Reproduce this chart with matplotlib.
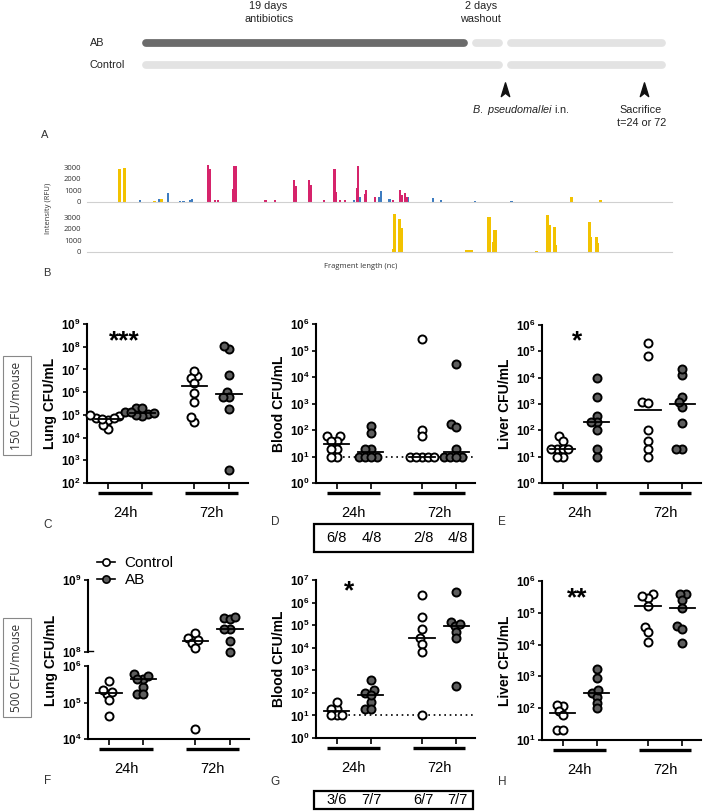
import numpy as np
import matplotlib.pyplot as plt
import matplotlib.transforms as mtrans
from matplotlib.path import Path
from matplotlib.lines import Line2D
from matplotlib.patches import Rectangle
from matplotlib.ticker import NullLocator

plt.rcParams['font.family'] = ['Liberation Sans', 'DejaVu Sans']
plt.rcParams['mathtext.fontset'] = 'custom'
plt.rcParams['mathtext.rm'] = 'Liberation Sans'
plt.rcParams['mathtext.it'] = 'Liberation Sans:italic'
plt.rcParams['mathtext.bf'] = 'Liberation Sans:bold'

# ---- A: timeline (days) ----
ab_days = 19
washout_days = 2
end_day = 30.4        # drawn length of the infection period (not to scale)
sacrifice_day = 29.0

# ---- B: fragment analysis peaks (position along axis, height in RFU) ----
top_yellow_pos = [73, 83, 150, 167, 1080, 1145]
top_yellow_h = [2850, 2900, 100, 250, 450, 150]
top_blue_pos = [118, 160, 181, 207, 215, 230, 235, 595, 608, 651, 655, 675, 715, 772, 790, 865, 947]
top_blue_h = [150, 250, 750, 100, 100, 200, 300, 150, 450, 400, 950, 250, 400, 350, 150, 100, 100]
top_red_pos = [270, 273, 285, 293, 326, 328, 332, 398, 420, 462, 465, 496, 499, 528, 552, 555,
               565, 575, 603, 605, 620, 623, 643, 683, 698, 702, 710, 713]
top_red_h = [3200, 2850, 200, 200, 1100, 3050, 3050, 200, 200, 1900, 1350, 1850, 1450, 200, 2850, 900,
             150, 150, 1200, 3100, 700, 1050, 450, 150, 1000, 600, 800, 400]
bot_yellow_pos = [683, 685, 698, 701, 847, 852, 857, 895, 898, 908, 910, 1003, 1028, 1031, 1043, 1045,
                  1121, 1124, 1136, 1138]
bot_yellow_h = [300, 3250, 2800, 2100, 200, 200, 150, 3000, 3000, 900, 1850, 100, 3200, 2300, 2150, 600,
                2550, 1250, 1250, 800]

# ---- C-H: CFU/mL, groups = Control 24h, AB 24h, Control 72h, AB 72h ----
lung150 = [[9.1e4, 5.9e4, 7e4, 7.4e4, 9.8e4, 2.4e4, 3.6e4, 6.5e4],
           [1.1e5, 2e5, 9e4, 2e5, 1.4e5, 1e5, 1.2e5, 1.3e5],
           [5.2e6, 8.7e6, 4.4e6, 2.6e6, 9.5e5, 3.8e5, 5e4, 8.3e4],
           [7.8e7, 1.1e8, 5.6e6, 1.05e6, 5.9e5, 6.3e5, 1.8e5, 3.7e2]]
blood150 = [[60, 60, 40, 40, 20, 20, 10, 10],
            [140, 80, 20, 20, 10, 10, 10, 10],
            [2.8e5, 100, 60, 10, 10, 10, 10, 10],
            [3.1e4, 170, 125, 20, 10, 10, 10, 10]]
liver150 = [[60, 39, 20, 20, 20, 20, 10, 10],
            [9.3e3, 1.9e3, 360, 200, 210, 100, 20, 10],
            [2e5, 6.6e4, 1.2e3, 1.07e3, 100, 40, 20, 10],
            [1.26e4, 2.1e4, 1.9e3, 800, 1.2e3, 190, 20, 20]]
lung500 = [[1.66e5, 2.2e5, 4e5, 1.9e5, 1.17e5, 4.3e4],
           [6e5, 2.6e5, 4.4e5, 4.4e5, 5.4e5, 1.66e5, 1.66e5],
           [1.55e8, 1.86e8, 1.35e8, 1.15e8, 1.48e8, 1.9e4],
           [2.95e8, 2.9e8, 3.1e8, 2.1e8, 2.1e8, 1.4e8, 1.0e8]]
blood500 = [[20, 40, 20, 10, 10, 10],
            [380, 98, 130, 38, 80, 20, 20],
            [2.2e6, 2.4e5, 6.6e4, 2.6e4, 1.5e4, 6.3e3, 10],
            [3e6, 1.45e5, 9.3e4, 1.15e5, 5.2e4, 2.6e4, 210]]
liver500 = [[120, 125, 83, 60, 20, 20],
            [870, 1.7e3, 310, 230, 370, 150, 98],
            [3.8e5, 3e5, 3.3e5, 1.6e5, 3.6e4, 2.5e4, 1.2e4],
            [3.8e5, 3.8e5, 2.6e5, 1.45e5, 3.8e4, 3e4, 1.1e4]]
blood150_pos = ['6/8', '4/8', '2/8', '4/8']
blood500_pos = ['3/6', '7/7', '6/7', '7/7']
times = ['24h', '72h']

W, H = 704, 811
fig = plt.figure(figsize=(W / 100, H / 100), dpi=100)


def add_ax(l, t, r, b):
    return fig.add_axes([l / W, 1 - b / H, (r - l) / W, (b - t) / H])


def ftext(x, y, s, **kw):
    kw.setdefault('ha', 'center')
    kw.setdefault('va', 'center')
    fig.text(x / W, 1 - y / H, s, **kw)


def fbox(l, t, r, b, **kw):
    fig.add_artist(Rectangle((l / W, 1 - b / H), (r - l) / W, (b - t) / H,
                             transform=fig.transFigure, fill=False, **kw))


# ---------- A ----------
axA = add_ax(0, 0, W, 140)
pxday = 17.38
axA.set_xlim(-140 / pxday, (W - 140) / pxday)
axA.set_ylim(140, 0)
axA.axis('off')
dark, light = '#6b6b6b', '#e3e3e3'
rows = {'AB': (43, [(0, ab_days, dark), (ab_days, ab_days + washout_days, light),
                    (ab_days + washout_days, end_day, light)]),
        'Control': (65, [(0, ab_days + washout_days, light), (ab_days + washout_days, end_day, light)])}
for name, (yrow, segs) in rows.items():
    for s, e, c in segs:
        axA.plot([s + 0.35, e - 0.35], [yrow, yrow], color=c, lw=5.6, solid_capstyle='round')
    axA.text(-50 / pxday, yrow, name, ha='left', va='center', fontsize=7.8, color='#222')
axA.text(7.4, 6, '19 days', ha='center', va='center', fontsize=7.8, color='#222')
axA.text(7.4, 19, 'antibiotics', ha='center', va='center', fontsize=7.8, color='#222')
axA.text(ab_days + 0.6, 6, '2 days', ha='center', va='center', fontsize=7.8, color='#222')
axA.text(ab_days + 0.6, 19, 'washout', ha='center', va='center', fontsize=7.8, color='#222')
arrow = Path([(0, 1), (0.55, -0.8), (0, -0.35), (-0.55, -0.8), (0, 1)],
             [Path.MOVETO, Path.LINETO, Path.LINETO, Path.LINETO, Path.CLOSEPOLY])
axA.plot([ab_days + washout_days, sacrifice_day], [90, 90], ls='none', marker=arrow,
         ms=11, color='#111')
axA.text(ab_days + washout_days + 0.9, 110, r'$\it{B.\ pseudomallei}$ i.n.', ha='center',
         va='center', fontsize=7.8, color='#222')
axA.text(sacrifice_day - 0.2, 110, 'Sacrifice', ha='center', va='center', fontsize=7.8, color='#222')
axA.text(sacrifice_day - 0.15, 123, 't=24 or 72', ha='center', va='center', fontsize=7.8, color='#222')
ftext(45, 135, 'A', fontsize=8, color='#333')

# ---------- B ----------
yellow, blue, red = '#f2c200', '#3d7cc0', '#d6236b'
axB1 = add_ax(87, 163.5, 672, 202)
axB2 = add_ax(87, 213.5, 672, 252)
axB1.bar(top_yellow_pos, top_yellow_h, width=7, color=yellow, lw=0)
axB1.bar(top_blue_pos, top_blue_h, width=5, color=blue, lw=0)
axB1.bar(top_red_pos, top_red_h, width=5, color=red, lw=0)
axB2.bar(bot_yellow_pos, bot_yellow_h, width=7, color=yellow, lw=0)
for ax in (axB1, axB2):
    ax.set_xlim(0, 1305)
    ax.set_ylim(0, 3300)
    ax.set_yticks([0, 1000, 2000, 3000])
    ax.set_xticks([])
    ax.tick_params(axis='y', length=0, labelsize=5.5, pad=4, labelcolor='#333')
    for sp in ('top', 'right', 'left'):
        ax.spines[sp].set_visible(False)
    ax.spines['bottom'].set_color('#d0d0d0')
    ax.spines['bottom'].set_linewidth(0.8)
    ax.patch.set_alpha(0)
    for lab in ax.get_yticklabels():
        lab.set_family(['Open Sans', 'DejaVu Sans'])
ftext(49, 208, 'Intensity (RFU)', rotation=90, fontsize=5.5, color='#333', family=['Open Sans', 'DejaVu Sans'])
ftext(361, 266, 'Fragment length (nc)', fontsize=5.5, color='#333', family=['Open Sans', 'DejaVu Sans'])
ftext(47, 273, 'B', fontsize=8, color='#333')

# ---------- C-H ----------
xpos = [0, 1, 2.5, 3.5]
ppx = 34.6


def swarm(ypx, d=5.8):
    cand = np.arange(-25, 25.01, 0.5)
    cand = cand[np.argsort(np.abs(cand), kind='stable')]
    placed, out = [], np.zeros(len(ypx))
    for i in np.argsort(ypx):
        for c in cand:
            if all((c - a) ** 2 + (ypx[i] - b) ** 2 >= d * d for a, b in placed):
                out[i] = c
                placed.append((c, ypx[i]))
                break
    return out


def style_ax(ax, lo, hi, bottom=True):
    ax.set_yscale('log')
    ax.set_ylim(10.0 ** lo, 10.0 ** hi)
    ax.set_xlim(-0.6, 4.05)
    ax.set_yticks([10.0 ** k for k in range(lo, hi + 1)])
    ax.set_yticklabels([r'$\mathbf{10^{%d}}$' % k for k in range(lo, hi + 1)])
    ax.yaxis.set_minor_locator(NullLocator())
    for sp in ('top', 'right'):
        ax.spines[sp].set_visible(False)
    ax.spines['left'].set_linewidth(1.5)
    ax.spines['bottom'].set_linewidth(1.5)
    ax.tick_params(axis='y', length=3, width=1.2, labelsize=8.5, pad=1.5)
    if bottom:
        ax.set_xticks(xpos)
        ax.set_xticklabels([])
        ax.tick_params(axis='x', length=4, width=1.2)
    else:
        ax.spines['bottom'].set_visible(False)
        ax.set_xticks([])
    ax.patch.set_alpha(0)


def draw_points(ax, i, vals, off):
    x = xpos[i] + off / ppx
    face = 'white' if i % 2 == 0 else '#5e5e5e'
    ax.plot(x, vals, 'o', ms=5.8, mfc=face, mec='k', mew=1.4, ls='none', zorder=3, clip_on=False)


def median_line(ax, i, vals):
    m = np.median(vals)
    ax.plot([xpos[i] - 0.37, xpos[i] + 0.37], [m, m], color='k', lw=1.3, zorder=4)


def under_axis(ax):
    tr = ax.get_xaxis_transform() + mtrans.ScaledTranslation(0, -10 / 100, fig.dpi_scale_trans)
    for k, c in enumerate([0.5, 3.0]):
        ax.plot([c - 0.77, c + 0.77], [0, 0], color='k', lw=2.4, transform=tr, clip_on=False,
                solid_capstyle='butt')
        ax.annotate(times[k], xy=(c, 0), xycoords=('data', 'axes fraction'), xytext=(0, -30),
                    textcoords='offset pixels', ha='center', va='center', fontsize=10.5,
                    annotation_clip=False)


def cfu_panel(rect, data, lo, hi, ylabel, dotted=False):
    ax = add_ax(*rect)
    style_ax(ax, lo, hi)
    ppd = (rect[3] - rect[1]) / (hi - lo)
    for i, vals in enumerate(data):
        v = np.array(vals, float)
        off = swarm(np.log10(v) * ppd)
        draw_points(ax, i, v, off)
        median_line(ax, i, v)
    if dotted:
        ax.axhline(10, xmin=0.07, xmax=1.0, color='k', ls=(0, (1, 2.2)), lw=1.2, zorder=1)
    ftext(rect[0] - 37, (rect[1] + rect[3]) / 2, ylabel, rotation=90, fontsize=10,
          fontweight='bold')
    under_axis(ax)
    return ax


cfu_panel((87, 324, 248, 483), lung150, 2, 9, 'Lung CFU/mL')
cfu_panel((316, 324, 475, 483), blood150, 0, 6, 'Blood CFU/mL', dotted=True)
cfu_panel((542, 325, 701, 483), liver150, 0, 6, 'Liver CFU/mL')
cfu_panel((316, 580, 475, 738), blood500, 0, 7, 'Blood CFU/mL', dotted=True)
cfu_panel((542, 581, 701, 740), liver500, 1, 6, 'Liver CFU/mL')

# F: broken axis
axFu = add_ax(88, 580, 249, 652)
axFl = add_ax(88, 666, 249, 739)
style_ax(axFu, 8, 9, bottom=False)
style_ax(axFl, 4, 6)
for i, vals in enumerate(lung500):
    v = np.array(vals, float)
    lv = np.log10(v)
    ypx = np.where(v >= 1e7, 73 + 14 + (lv - 8) * 72, (lv - 4) * 36.5)
    off = swarm(ypx)
    hi_m = v >= 1e7
    if hi_m.any():
        draw_points(axFu, i, v[hi_m], off[hi_m])
    if (~hi_m).any():
        draw_points(axFl, i, v[~hi_m], off[~hi_m])
    m = np.median(v)
    median_line(axFu if m >= 1e7 else axFl, i, v)
axFu.plot([-0.6, -0.45], [1.03e8, 1.03e8], color='k', lw=1.0, clip_on=False)
ftext(51, 660, 'Lung CFU/mL', rotation=90, fontsize=10, fontweight='bold')
under_axis(axFl)

leg_h = [Line2D([], [], marker='o', ls='-', color='k', mfc='white', mec='k', ms=5.2, mew=1.2, lw=1.2),
         Line2D([], [], marker='o', ls='-', color='k', mfc='#5e5e5e', mec='k', ms=5.2, mew=1.2, lw=1.2)]
fig.legend(leg_h, ['Control', 'AB'], loc='upper left', bbox_to_anchor=(97 / W, 1 - 556 / H),
           frameon=False, fontsize=11, handlelength=1.2, handletextpad=0.6, labelspacing=0.2,
           borderpad=0, borderaxespad=0)

# fraction boxes under blood panels
for (t, b), labs in [((524, 552), blood150_pos), ((791, 809), blood500_pos)]:
    fbox(314, t, 473, b, lw=1.6, edgecolor='k')
    for k, s in enumerate(labs):
        ftext(316 + (0.6 + xpos[k]) * ppx, (t + b) / 2 + 0.5, s, fontsize=10.5)

# dose boxes
for (t, b), s in [((356, 455), '150 CFU/mouse'), ((618, 717), '500 CFU/mouse')]:
    fbox(3, t, 31, b, lw=0.8, edgecolor='#888')
    ftext(17, (t + b) / 2, s, rotation=90, fontsize=8.6, color='#333',
          family=['Open Sans', 'DejaVu Sans'])

# significance stars and panel letters
for x, y, s in [(124, 341, '***'), (577, 341, '*'), (349, 591, '*'), (577, 598, '**')]:
    ftext(x, y, s, fontsize=19, fontweight='bold')
for x, y, s in [(48, 525, 'C'), (275, 522, 'D'), (502, 522, 'E'),
                (48, 781, 'F'), (275, 782, 'G'), (502, 782, 'H')]:
    ftext(x, y, s, fontsize=8.5, color='#333')

fig.savefig('out.png', dpi=100)
